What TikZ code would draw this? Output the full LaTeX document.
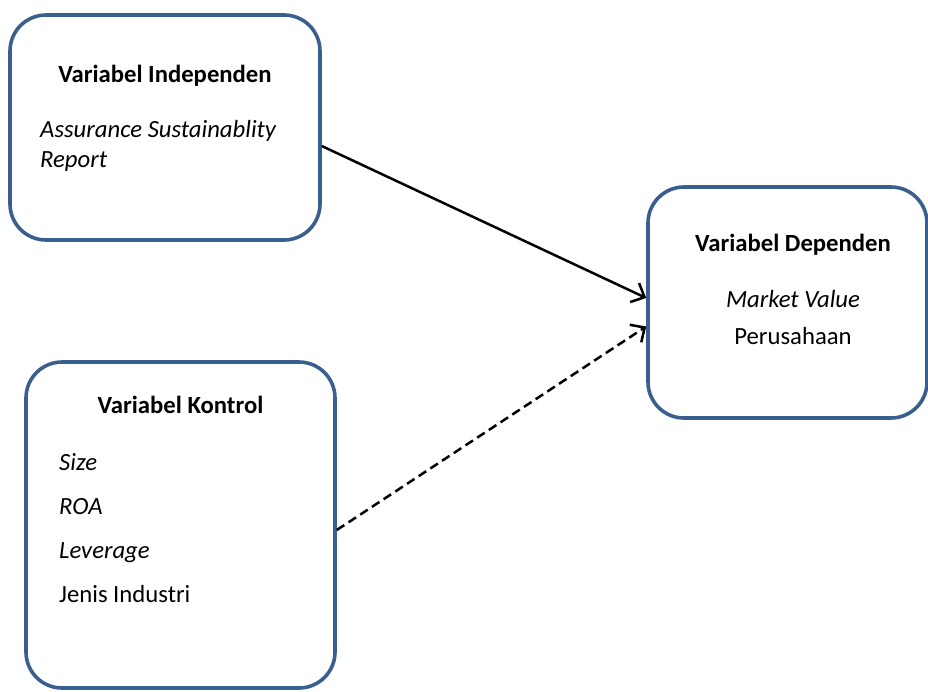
\documentclass[tikz,border=0pt]{standalone}
\usepackage{fontspec}
\setmainfont{Carlito}
\usetikzlibrary{arrows.meta}
\definecolor{boxblue}{HTML}{3A5F8E}
\tikzset{
  varbox/.style={draw=boxblue, line width=3.6pt, rounded corners=36pt, rectangle, inner sep=0pt},
  txt/.style={inner sep=0pt, font=\fontsize{24.7}{30}\selectfont},
  link/.style={black, line width=2.5pt, -{Straight Barb[length=11pt, width=21pt, line width=2.5pt]}},
  ctrl/.style={link, dash pattern=on 9pt off 5pt}
}
\begin{document}
\begin{tikzpicture}[x=1pt,y=-1pt]
\useasboundingbox (0,0) rectangle (928,691);
\node[varbox, minimum width=310pt, minimum height=225pt] (b1) at (165,127.5) {};
\node[varbox, minimum width=279pt, minimum height=231pt] (b2) at (787.5,302.5) {};
\node[varbox, minimum width=309pt, minimum height=326pt] (b3) at (180.5,525) {};

\node[txt, anchor=base, font=\fontsize{24.7}{30}\selectfont\bfseries] (t1) at (165,82) {Variabel Independen};
\node[txt, anchor=base west] (t2) at (40,137) {\itshape Assurance Sustainablity};
\node[txt, anchor=base west] (t3) at (40,167) {\itshape Report};

\node[txt, anchor=base, font=\fontsize{24.7}{30}\selectfont\bfseries] (d1) at (793,251) {Variabel Dependen};
\node[txt, anchor=base] (d2) at (793,307) {\itshape Market Value};
\node[txt, anchor=base] (d3) at (793,344) {Perusahaan};

\node[txt, anchor=base, font=\fontsize{24.7}{30}\selectfont\bfseries] (k1) at (180.5,413) {Variabel Kontrol};
\node[txt, anchor=base west] (k2) at (59,470) {\itshape Size};
\node[txt, anchor=base west] (k3) at (59,514) {\itshape ROA};
\node[txt, anchor=base west] (k4) at (59,558) {\itshape Leverage};
\node[txt, anchor=base west] (k5) at (59,602) {Jenis Industri};

\draw[link] ([yshift=-18.5pt]b1.east) -- ([yshift=4.5pt]b2.west);
\draw[ctrl] ([yshift=-5pt]b3.east) -- ([yshift=-24pt]b2.west);
\end{tikzpicture}
\end{document}
